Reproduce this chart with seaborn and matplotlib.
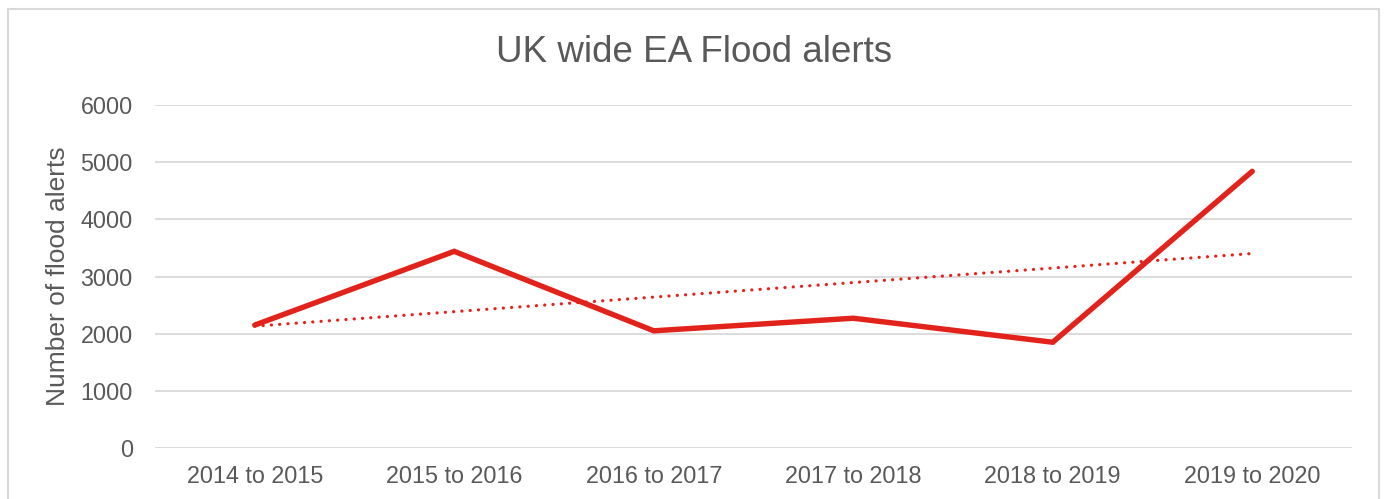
import numpy as np
import pandas as pd
import matplotlib
matplotlib.use("Agg")
import matplotlib.pyplot as plt
from matplotlib.patches import Rectangle
import seaborn as sns

categories = ["2014 to 2015", "2015 to 2016", "2016 to 2017",
              "2017 to 2018", "2018 to 2019", "2019 to 2020"]
alerts = [2150, 3440, 2050, 2270, 1850, 4840]
yticks = [0, 1000, 2000, 3000, 4000, 5000, 6000]

sns.set_style("white")
plt.rcParams['font.family'] = ['Liberation Sans', 'DejaVu Sans']

df = pd.DataFrame({"idx": np.arange(len(categories)), "period": categories, "alerts": alerts})

W, H = 1384, 499
fig = plt.figure(figsize=(W / 100, H / 100), dpi=100)
ax = fig.add_axes([155 / W, 1 - 448 / H, (1352 - 155) / W, (448 - 105) / H])

TXT = "#595959"
GRID = "#d9d9d9"
RED = "#E2231C"

sns.lineplot(data=df, x="idx", y="alerts", ax=ax, color=RED, linewidth=3.9,
             solid_capstyle="round", solid_joinstyle="miter", zorder=3)
sns.regplot(data=df, x="idx", y="alerts", ax=ax, scatter=False, ci=None,
            line_kws=dict(color=RED, linewidth=2.3, linestyle=(0, (0.05, 2.55)),
                          dash_capstyle="round", zorder=2))

ax.set_xlim(-0.5, len(categories) - 0.5)
ax.set_ylim(0, 6000)
ax.set_yticks(yticks)
ax.set_yticklabels([str(v) for v in yticks])
ax.set_xticks(df["idx"])
ax.set_xticklabels(categories)
ax.tick_params(axis="both", length=0, labelsize=16.8, labelcolor=TXT)
ax.tick_params(axis="x", pad=12)
ax.tick_params(axis="y", pad=16)
for s in ax.spines.values():
    s.set_visible(False)
ax.yaxis.grid(True, color=GRID, linewidth=1.3)
ax.set_axisbelow(True)
ax.set_xlabel("")
ax.set_ylabel("Number of flood alerts", fontsize=19, color=TXT)
ax.yaxis.set_label_coords(-(155 - 70) / (1352 - 155), 0.5)

fig.text(694 / W, 1 - 52 / H, "UK wide EA Flood alerts", ha="center", va="center",
         fontsize=26.5, color=TXT)

fig.patches.append(Rectangle((8 / W, -0.2), (1379 - 8) / W, 1.2 - 9 / H,
                             transform=fig.transFigure, fill=False,
                             edgecolor=GRID, linewidth=1.5))

fig.savefig("out.png", dpi=100)
